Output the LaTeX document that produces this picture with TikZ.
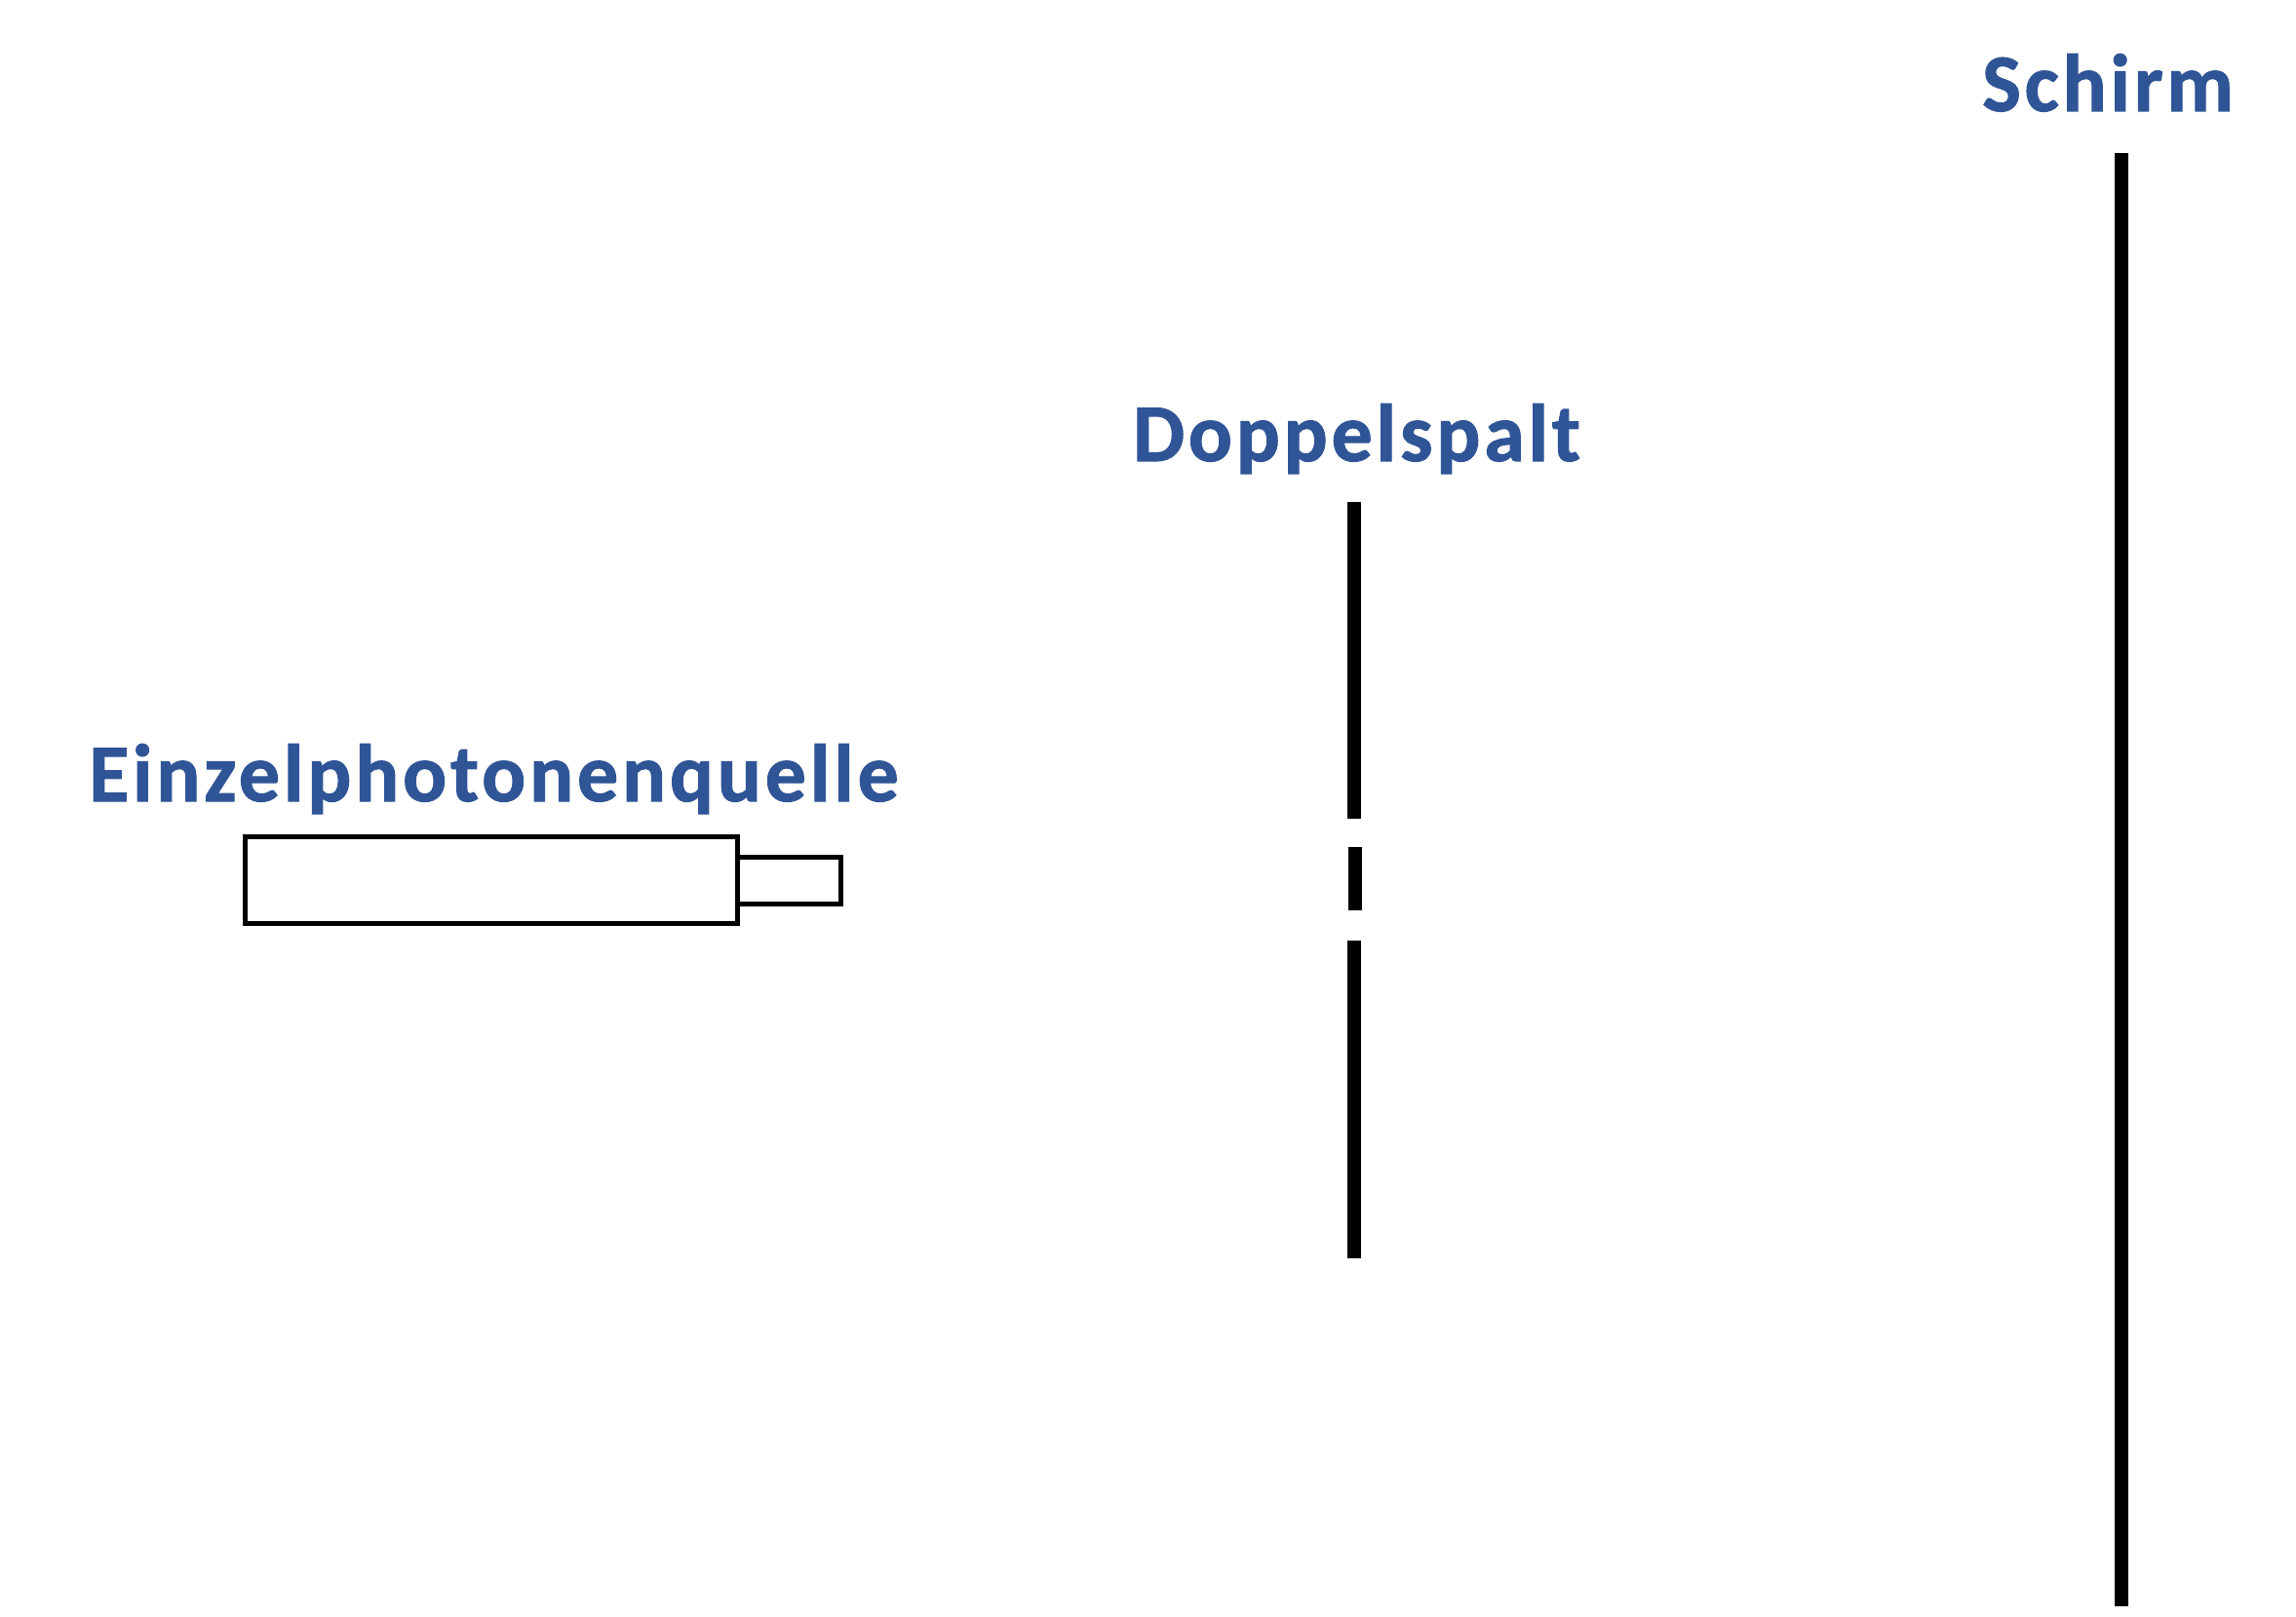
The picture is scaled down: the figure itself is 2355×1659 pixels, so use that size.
\documentclass[tikz,border=0pt]{standalone}
\usepackage{fontspec}
\setmainfont{Carlito}
\newfontfamily\lblfont[LetterSpace=4.5,BoldFeatures={FakeBold=1.2}]{Carlito}
\definecolor{lblue}{HTML}{2F5597}
\begin{document}
\begin{tikzpicture}[x=1pt,y=-1pt,
  lbl/.style={inner sep=0pt,anchor=base west,text=lblue,font=\lblfont\fontsize{84}{96}\selectfont\bfseries},
  tube/.style={draw=black,line width=4.7pt,fill=none}]
\useasboundingbox (0,0) rectangle (2355,1659);
% source
\draw[tube] (251.5,858.5) rectangle (756.5,947.5);
\draw[tube] (756.5,879.5) rectangle (862.5,927.5);
\node[lbl] (src) at (91,822) {Einzelphotonenquelle};
% double slit
\fill (1382,515) rectangle (1396,840);
\fill (1383,869) rectangle (1397,934);
\fill (1382,965) rectangle (1396,1291);
\node[lbl] (ds) at (1162,473) {Doppelspalt};
% screen
\fill (2169,157) rectangle (2183,1648);
\node[lbl] (sc) at (2033,114) {Schirm};
\end{tikzpicture}
\end{document}
